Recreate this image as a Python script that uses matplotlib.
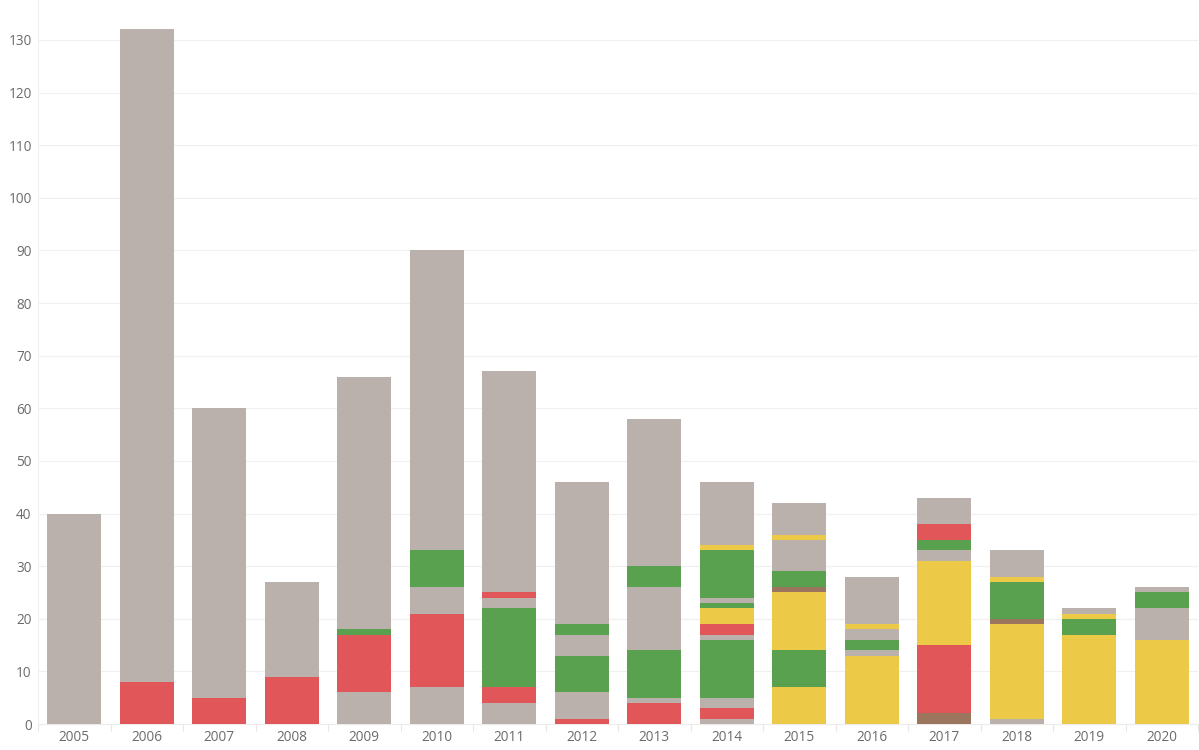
import numpy as np
import matplotlib.pyplot as plt

# ── DATA ──────────────────────────────────────────────────────────────────────
YEARS = [str(y) for y in range(2005, 2021)]

# stacked segments per year, bottom -> top (colour code + value)
SEG_CODES = [
    "g",
    "rg",
    "rg",
    "rg",
    "grGg",
    "grgGg",
    "grGgrg",
    "rgGgGg",
    "rgGgGg",
    "grgGgryGgGyg",
    "yGybGgyg",
    "ygGgyg",
    "brygGrg",
    "gybGyg",
    "yGyg",
    "ygGg",
]
SEG_VALUES = [
    [40],
    [8, 124],
    [5, 55],
    [9, 18],
    [6, 11, 1, 48],
    [7, 14, 5, 7, 57],
    [4, 3, 15, 2, 1, 42],
    [1, 5, 7, 4, 2, 27],
    [4, 1, 9, 12, 4, 28],
    [1, 2, 2, 11, 1, 2, 3, 1, 1, 9, 1, 12],
    [7, 7, 11, 1, 3, 6, 1, 6],
    [13, 1, 2, 2, 1, 9],
    [2, 13, 16, 2, 2, 3, 5],
    [1, 18, 1, 7, 1, 5],
    [17, 3, 1, 1],
    [16, 6, 3, 1],
]

PALETTE = {
    "g": "#bab0ac",  # gray
    "r": "#e15759",  # red
    "G": "#59a14f",  # green
    "y": "#edc948",  # yellow
    "b": "#9c755f",  # brown
}

# ── PLOT ──────────────────────────────────────────────────────────────────────
plt.rcParams["font.family"] = ["Open Sans", "DejaVu Sans"]

fig = plt.figure(figsize=(11.99, 7.5), dpi=100)
ax = fig.add_axes([38 / 1199, 26 / 750, 1160 / 1199, 724 / 750])

x = np.arange(len(YEARS))
for i, (codes, vals) in enumerate(zip(SEG_CODES, SEG_VALUES)):
    bottom = 0
    for c, v in zip(codes, vals):
        ax.bar(x[i], v, bottom=bottom, width=0.745, color=PALETTE[c],
               linewidth=0, zorder=3)
        bottom += v

ax.set_xlim(-0.5, len(YEARS) - 0.5)
ax.set_ylim(0, 137.6)

ax.set_yticks(np.arange(0, 131, 10))
ax.yaxis.grid(True, color="#f0f0f0", linewidth=0.9, zorder=0)
ax.set_xticks(x)
ax.set_xticklabels(YEARS)
ax.set_xticks(np.arange(-0.5, len(YEARS), 1), minor=True)

ax.tick_params(axis="y", length=0, pad=4.5, labelsize=9.8, labelcolor="#6b6b6b")
ax.tick_params(axis="x", which="major", length=0, pad=4, labelsize=9.8,
               labelcolor="#6b6b6b")
ax.tick_params(axis="x", which="minor", length=5, width=0.8, color="#e6e6e6")

for side in ["top", "right"]:
    ax.spines[side].set_visible(False)
ax.spines["left"].set_color("#f0f0f0")
ax.spines["bottom"].set_color("#ececec")

fig.savefig("out.png", dpi=100)
